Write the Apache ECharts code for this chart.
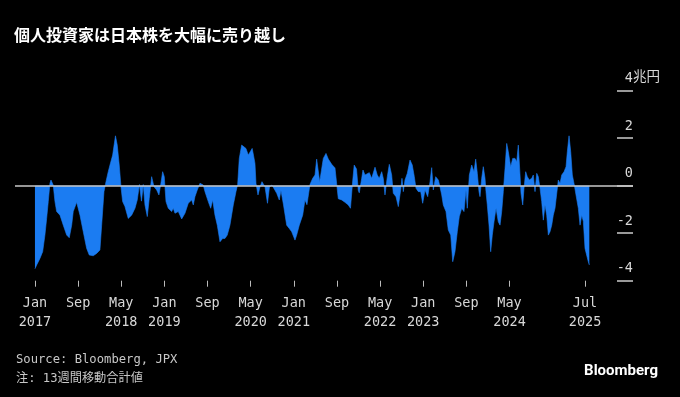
<!DOCTYPE html>
<html>
<head>
<meta charset="utf-8">
<script src="https://cdn.jsdelivr.net/npm/echarts@6/dist/echarts.min.js"></script>
<style>
  html, body { margin: 0; padding: 0; background: #000; }
  #chart { width: 680px; height: 397px; }
</style>
</head>
<body>
<div id="chart"></div>
<script>
// 月数 (2017年1月 = 0)
const months = [
  0, 0.32, 0.93, 1.43, 1.85, 2.17, 2.47, 2.78, 2.97, 3.39, 3.71, 4.02, 4.64, 5.25, 5.88, 6.36, 6.81, 7.10, 7.73, 8.35,
  8.96, 9.59, 10.07, 10.81, 11.44, 12.05, 12.37, 12.80, 13.17, 13.59, 13.91, 14.41, 14.93, 15.26, 15.63, 15.95, 16.26, 16.69, 17.30, 17.93,
  18.55, 18.97, 19.38, 19.75, 20.09, 20.40, 20.83, 21.20, 21.64, 22.07, 22.57, 22.99, 23.31, 23.68, 23.98, 24.30, 24.72, 25.35, 25.65, 25.96,
  26.58, 27.21, 27.82, 28.43, 29.06, 29.36, 29.67, 30.10, 30.60, 30.92, 31.21, 31.53, 32.14, 32.59, 32.96, 33.38, 33.81, 34.31, 34.81, 35.24,
  35.66, 36.16, 36.78, 37.28, 37.59, 37.89, 38.33, 38.63, 39.13, 39.56, 39.87, 40.28, 40.52, 40.80, 40.99, 41.36, 41.73, 42.10, 42.66, 43.12,
  43.49, 43.95, 44.83, 45.31, 45.62, 46.09, 46.68, 47.16, 47.61, 48.22, 48.53, 49.02, 49.65, 50.07, 50.44, 51.00, 51.50, 51.93, 52.24, 52.54,
  52.80, 53.13, 53.47, 53.97, 54.40, 55.03, 55.64, 55.95, 56.25, 56.88, 57.49, 58.10, 58.51, 58.92, 59.20, 59.63, 59.96, 60.14, 60.59, 60.83,
  61.20, 61.52, 62.00, 62.44, 63.06, 63.48, 63.85, 64.30, 64.60, 64.91, 65.34, 65.71, 66.15, 66.45, 66.95, 67.38, 67.82, 68.06, 68.31, 68.62,
  69.05, 69.55, 69.97, 70.35, 70.66, 71.09, 71.53, 71.90, 72.33, 72.83, 73.26, 73.57, 73.87, 74.31, 74.80, 75.11, 75.43, 75.72, 76.22, 76.65,
  77.10, 77.47, 77.89, 78.32, 78.69, 79.14, 79.56, 79.93, 80.17, 80.55, 80.99, 81.42, 81.73, 82.03, 82.34, 82.53, 82.84, 83.14, 83.46, 83.64,
  83.88, 84.20, 84.51, 84.81, 85.13, 85.50, 85.92, 86.24, 86.55, 86.85, 87.17, 87.48, 87.78, 88.22, 88.59, 89.02, 89.34, 89.63, 89.95, 90.13,
  90.45, 90.69, 91.00, 91.30, 91.67, 92.12, 92.41, 92.73, 93.05, 93.34, 93.66, 93.97, 94.27, 94.58, 94.90, 95.20, 95.51, 95.83, 96.12, 96.44,
  96.75, 97.05, 97.37, 97.68, 98.11, 98.48, 98.72, 99.04, 99.35, 99.65, 100.02, 100.33, 100.76, 101.08, 101.39, 101.69, 102.00, 102.32, 102.61, 102.80
]

// 個人の日本株売買差額 (兆円, 13週間移動合計)
const netBuy = [
  -3.5, -3.34, -3.06, -2.78, -2.08, -1.38, -0.67, 0.1, 0.24, 0.03, -0.67, -1.09, -1.24, -1.66, -2.08, -2.19, -1.66, -1.09, -0.7, -1.24,
  -1.94, -2.64, -2.92, -2.95, -2.85, -2.71, -1.66, -0.25, 0.17, 0.59, 0.87, 1.29, 2.1, 1.71, 0.87, -0.04, -0.67, -0.88, -1.38, -1.24,
  -0.95, -0.6, 0.05, -0.65, 0.05, -0.81, -1.3, -0.53, 0.38, -0.04, -0.18, -0.39, 0.03, 0.59, 0.38, -0.67, -0.95, -1.09, -0.95, -1.16,
  -1.09, -1.4, -1.16, -0.74, -0.6, -0.81, -0.46, -0.18, 0.1, 0.17, 0.03, -0.25, -0.67, -0.95, -0.6, -1.24, -1.66, -2.36, -2.22, -2.22,
  -2.08, -1.66, -0.81, -0.25, 0.05, 1.15, 1.71, 1.78, 1.57, 1.29, 1.36, 1.57, 1.29, 0.94, 0.1, -0.39, -0.05, 0.17, -0.05, -0.74,
  -0.05, 0.03, -0.32, -0.6, -0.2, -0.81, -1.66, -1.8, -1.94, -2.29, -2.08, -1.66, -1.24, -0.6, -0.8, 0.05, 0.31, 0.45, 1.12, 1.08,
  0.17, 0.65, 1.15, 1.36, 1.12, 0.9, 0.75, 0.08, -0.55, -0.6, -0.7, -0.81, -0.95, 0.2, 0.87, 0.7, -0.2, -0.3, 0.31, 0.66,
  0.45, 0.5, 0.55, 0.31, 0.78, 0.45, 0.31, 0.59, 0.3, -0.39, 0.38, 0.9, 0.45, -0.32, -0.46, -0.88, -0.18, 0.31, -0.25, 0.24,
  0.52, 1.08, 0.87, 0.38, -0.11, -0.25, -0.25, -0.74, -0.18, -0.46, 0.17, 0.76, -0.18, 0.38, 0.24, -0.05, -0.39, -0.81, -1.09, -1.87,
  -2.08, -3.2, -2.78, -1.94, -1.3, -0.95, -1.09, -0.18, -0.95, 0.45, 0.87, 0.59, 1.12, 0.52, -0.25, -0.46, 0.31, 0.8, 0.31, -0.25,
  -0.81, -1.66, -2.78, -2.08, -1.52, -0.95, -1.52, -1.66, -1.09, -0.25, 0.73, 1.78, 1.43, 0.8, 1.15, 1.15, 1.01, 1.71, 0.45, -0.32,
  -0.81, -0.11, 0.59, 0.38, 0.24, 0.31, 0.45, -0.25, 0.52, 0.38, -0.11, -0.67, -1.45, -0.81, -1.24, -2.08, -1.94, -1.66, -1.24, -0.95,
  -1.0, 0.24, 0.1, 0.45, 0.59, 0.8, 1.43, 2.1, 1.43, 0.45, 0.03, -0.39, -0.95, -1.66, -1.24, -1.5, -2.64, -2.57, -3.2, -3.34
]

const tickMonths = [0, 8, 16, 24, 32, 40, 48, 56, 64, 72, 80, 88, 102]
const tickLabels = ['Jan\n2017', 'Sep', 'May\n2018', 'Jan\n2019', 'Sep', 'May\n2020', 'Jan\n2021', 'Sep',
  'May\n2022', 'Jan\n2023', 'Sep', 'May\n2024', 'Jul\n2025']

const mono = "'DejaVu Sans Mono', 'Noto Sans CJK JP', monospace"
const chart = echarts.init(document.getElementById('chart'))

chart.setOption({
  backgroundColor: '#000',
  animation: false,
  title: {
    text: '個人投資家は日本株を大幅に売り越し',
    left: 9,
    top: 22,
    textStyle: { color: '#fff', fontSize: 16, fontWeight: 'bold', fontFamily: 'Noto Sans CJK JP' }
  },
  grid: { left: 15, right: 47, top: 90.7, bottom: 116.3 },
  xAxis: {
    type: 'value',
    min: -3.7,
    max: 110.9,
    axisLine: { show: false, onZero: false },
    splitLine: { show: false },
    axisTick: { show: true, customValues: tickMonths, length: 6, lineStyle: { color: '#bbb', width: 1 } },
    axisLabel: {
      customValues: tickMonths,
      formatter: v => tickLabels[tickMonths.indexOf(v)],
      color: '#d8d8d8',
      fontFamily: mono,
      fontSize: 13.5,
      lineHeight: 19,
      margin: 13
    }
  },
  yAxis: {
    type: 'value',
    position: 'right',
    offset: -16,
    min: -4,
    max: 4,
    interval: 2,
    axisLine: { show: false, onZero: false },
    splitLine: { show: false },
    axisTick: { show: true, length: 16, lineStyle: { color: '#ccc', width: 1.5 } },
    axisLabel: {
      margin: 16,
      align: 'right',
      verticalAlign: 'bottom',
      padding: [0, 0, 5, 0],
      color: '#d8d8d8',
      fontFamily: mono,
      fontSize: 13.5,
      formatter: v => String(v)
    }
  },
  graphic: [
    { type: 'text', left: 633, top: 69, style: { text: '兆円', fill: '#d8d8d8', font: "13.5px 'Noto Sans CJK JP'" } },
    { type: 'text', left: 16, top: 354, style: { text: 'Source: Bloomberg, JPX', fill: '#c8c8c8', font: "12.2px " + mono } },
    { type: 'text', left: 16, top: 373, style: { text: '注: 13週間移動合計値', fill: '#c8c8c8', font: "12.2px " + mono } },
    { type: 'text', right: 22, top: 364, style: { text: 'Bloomberg', fill: '#fff', font: "bold 15px Roboto" } }
  ],
  series: [{
    type: 'line',
    data: months.map((m, i) => [m, netBuy[i]]),
    showSymbol: false,
    lineStyle: { width: 0.6, color: '#1b7cf2' },
    areaStyle: { color: '#1b7cf2', opacity: 1 },
    markLine: {
      silent: true,
      symbol: 'none',
      label: { show: false },
      lineStyle: { color: '#c8c8c8', width: 1.5, type: 'solid' },
      data: [{ yAxis: 0 }]
    }
  }]
})
</script>
</body>
</html>
